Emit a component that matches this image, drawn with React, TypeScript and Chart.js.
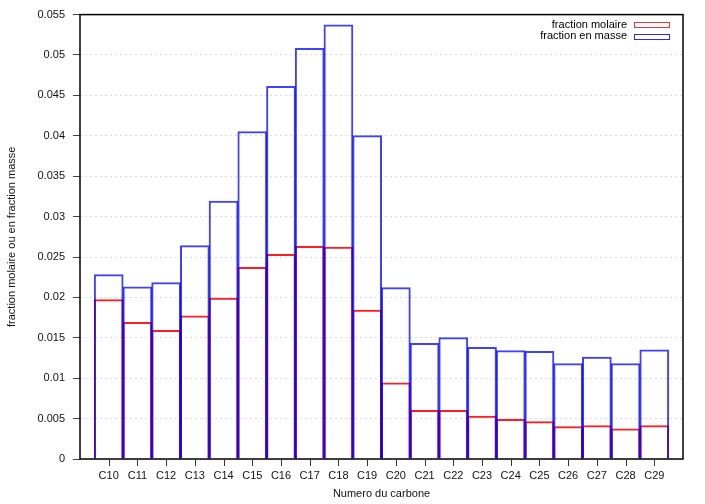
import React, { useEffect, useRef } from "react";
import { Chart, registerables } from "chart.js";

Chart.register(...registerables);

const categories = ["C10","C11","C12","C13","C14","C15","C16","C17","C18","C19","C20","C21","C22","C23","C24","C25","C26","C27","C28","C29"];
const fractionMolaire = [0.0197,0.0169,0.0159,0.0177,0.0199,0.0237,0.0253,0.0263,0.0262,0.0184,0.0094,0.0060,0.0060,0.0053,0.0049,0.0046,0.0040,0.0041,0.0037,0.0041];
const fractionMasse = [0.0228,0.0213,0.0218,0.0264,0.0319,0.0405,0.0461,0.0508,0.0537,0.0400,0.0212,0.0143,0.0150,0.0138,0.0134,0.0133,0.0118,0.0126,0.0118,0.0135];
const seriesNames = ["fraction molaire", "fraction en masse"];
const seriesColors = ["rgb(255,30,30)", "rgba(0,0,255,0.75)"];
const legendColors = ["rgb(240,50,50)", "rgb(40,40,255)"];
const yTitle = "fraction molaire ou en fraction masse";
const xTitle = "Numero du carbone";

const FONT = "'Liberation Sans', Arial, Helvetica, sans-serif";

const framePlugin = {
  id: "frame",
  afterDatasetsDraw(chart: any) {
    const { ctx, chartArea } = chart;
    ctx.save();
    ctx.strokeStyle = "#000";
    ctx.lineWidth = 1.5;
    ctx.strokeRect(chartArea.left, chartArea.top, chartArea.right - chartArea.left, chartArea.bottom - chartArea.top);
    ctx.restore();
  },
  afterDraw(chart: any) {
    const { ctx, chartArea } = chart;
    ctx.save();
    // x tick marks under the axis
    const xs = chart.scales.x;
    ctx.fillStyle = "#333";
    for (let i = 0; i < categories.length; i++) {
      const x = Math.round(xs.getPixelForValue(i));
      ctx.fillRect(x, Math.round(chartArea.bottom) + 1, 1, 6);
    }
    ctx.font = "11px " + FONT;
    ctx.textAlign = "right";
    ctx.textBaseline = "middle";
    const textRight = chartArea.right - 56;
    const boxLeft = chartArea.right - 49;
    const boxW = 35;
    const boxH = 5;
    const rows = [24.5, 36];
    seriesNames.forEach((name, i) => {
      const y = rows[i];
      ctx.fillStyle = "#000";
      ctx.fillText(name, textRight, y);
      ctx.strokeStyle = legendColors[i];
      ctx.lineWidth = 1;
      ctx.strokeRect(boxLeft + 0.5, Math.round(y - boxH / 2) + 0.5, boxW, boxH);
    });
    ctx.restore();
  },
};

export default function App() {
  const ref = useRef<HTMLCanvasElement | null>(null);
  useEffect(() => {
    if (!ref.current) return;
    const chart = new Chart(ref.current, {
      type: "bar",
      data: {
        datasets: [
          {
            label: seriesNames[0],
            data: fractionMolaire.map((v, i) => ({ x: i, y: v })),
            backgroundColor: "transparent",
            borderColor: seriesColors[0],
            borderWidth: 1,
            inflateAmount: 0.5,
            grouped: false,
            barPercentage: 1,
            categoryPercentage: 1,
            order: 2,
          } as any,
          {
            label: seriesNames[1],
            data: fractionMasse.map((v, i) => ({ x: i, y: v })),
            backgroundColor: "transparent",
            borderColor: seriesColors[1],
            borderWidth: 1,
            inflateAmount: 0.5,
            grouped: false,
            barPercentage: 1,
            categoryPercentage: 1,
            order: 1,
          } as any,
        ],
      },
      options: {
        responsive: false,
        animation: false,
        layout: { padding: { left: 0, right: 22, top: 12, bottom: 0 } },
        plugins: {
          legend: { display: false },
          tooltip: { enabled: false },
        },
        scales: {
          x: {
            type: "linear",
            min: -1,
            max: 20,
            offset: false,
            afterBuildTicks: (scale: any) => {
              scale.ticks = categories.map((_, i) => ({ value: i }));
            },
            afterFit: (scale: any) => {
              scale.height = 45;
            },
            ticks: {
              autoSkip: false,
              maxRotation: 0,
              padding: 4,
              color: "#111",
              font: { family: FONT, size: 11 },
              callback: (v: any) => categories[v] ?? "",
            },
            grid: {
              offset: false,
              display: true,
              drawOnChartArea: false,
              drawTicks: true,
              tickLength: 6,
              tickColor: "rgba(0,0,0,0)",
              tickWidth: 1,
            },
            border: { display: false },
            title: {
              display: true,
              text: xTitle,
              color: "#111",
              font: { family: FONT, size: 11 },
              padding: { top: 0, bottom: 3 },
            },
          },
          y: {
            type: "linear",
            min: 0,
            max: 0.055,
            afterFit: (scale: any) => {
              scale.width = 80;
            },
            ticks: {
              stepSize: 0.005,
              padding: 8,
              color: "#111",
              font: { family: FONT, size: 11 },
              callback: (v: any) => String(+Number(v).toFixed(3)),
            },
            grid: {
              color: "#dcdcdc",
              lineWidth: 1,
              drawTicks: true,
              tickLength: 7,
              tickColor: "#444",
              tickWidth: 1,
              tickBorderDash: [],
            },
            border: { display: false, dash: [2, 3] },
            title: {
              display: true,
              text: yTitle,
              color: "#111",
              font: { family: FONT, size: 11 },
              padding: { top: 5, bottom: 0 },
            },
          },
        },
      },
      plugins: [framePlugin],
    });
    return () => chart.destroy();
  }, []);
  return (
    <div style={{ position: "fixed", left: 0, top: 0, width: 705, height: 504, background: "#fff" }}>
      <canvas ref={ref} width={705} height={504} style={{ width: 705, height: 504, display: "block" }} />
    </div>
  );
}
